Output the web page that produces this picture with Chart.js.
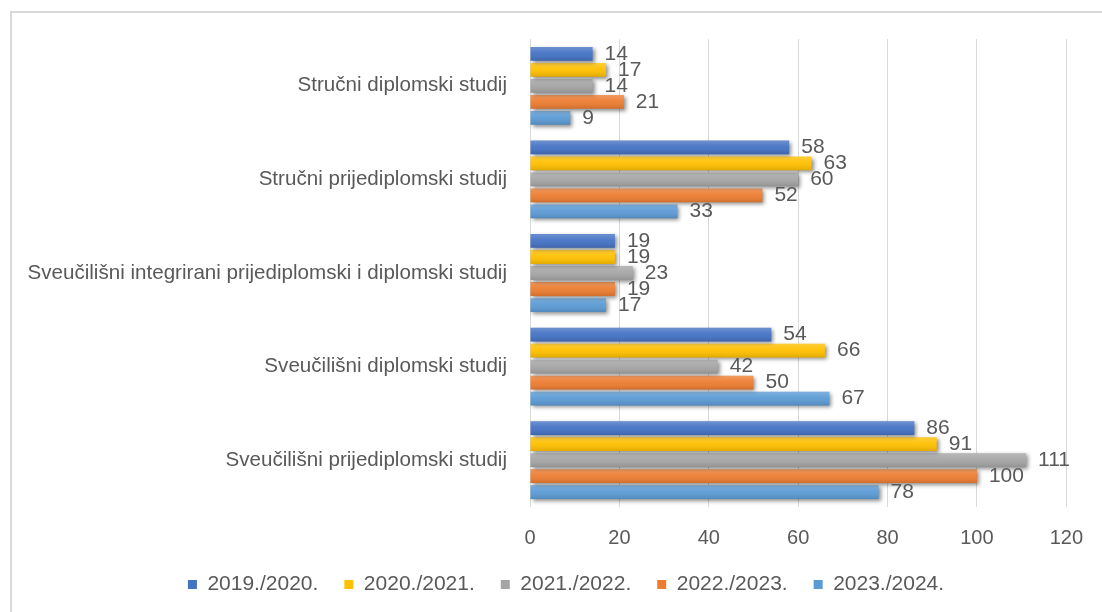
<!DOCTYPE html>
<html>
<head>
<meta charset="utf-8">
<script src="https://cdn.jsdelivr.net/npm/chart.js@4/dist/chart.umd.min.js"></script>
<style>
  html, body { margin: 0; padding: 0; background: #fff; }
  #wrap { width: 1102px; height: 612px; }
</style>
</head>
<body>
<div id="wrap"><canvas id="grafikon" width="1102" height="612"></canvas></div>
<script>
// kategorije (odozgo prema dolje) i vrijednosti po akademskoj godini
const studiji = [
  "Stručni diplomski studij",
  "Stručni prijediplomski studij",
  "Sveučilišni integrirani prijediplomski i diplomski studij",
  "Sveučilišni diplomski studij",
  "Sveučilišni prijediplomski studij"
];
const godine = ["2019./2020.", "2020./2021.", "2021./2022.", "2022./2023.", "2023./2024."];
const g2019 = [14, 58, 19, 54, 86];
const g2020 = [17, 63, 19, 66, 91];
const g2021 = [14, 60, 23, 42, 111];
const g2022 = [21, 52, 19, 50, 100];
const g2023 = [9, 33, 17, 67, 78];
const xTicks = [0, 20, 40, 60, 80, 100, 120];

const boje = ["#4472C4", "#FFC000", "#A5A5A5", "#ED7D31", "#5B9BD5"];
const serije = [g2019, g2020, g2021, g2022, g2023];
const FONT = "'Liberation Sans', Arial, sans-serif";
const SIVA = "#595959";

// okvir grafikona + sjena i sjenčanje stupaca + oznake vrijednosti
const okvirPlugin = {
  id: "okvir",
  beforeDraw(chart) {
    const ctx = chart.ctx;
    ctx.save();
    ctx.fillStyle = "#fff";
    ctx.fillRect(0, 0, chart.width, chart.height);
    ctx.strokeStyle = "#d9d9d9";
    ctx.lineWidth = 2;
    ctx.strokeRect(11, 12, 1200, 700);
    ctx.restore();
  },
  afterLayout(chart) {
    // legenda je u Excelu malo pomaknuta udesno
    chart.legend.left += 24;
    chart.legend.right += 24;
  },
  beforeDatasetsDraw(chart) {
    const ctx = chart.ctx;
    ctx.save();
    ctx.shadowColor = "rgba(0,0,0,0.45)";
    ctx.shadowBlur = 4;
    ctx.shadowOffsetX = 2;
    ctx.shadowOffsetY = 2;
  },
  afterDatasetsDraw(chart) {
    const ctx = chart.ctx;
    ctx.restore();
    ctx.save();
    // blago sjenčanje (svjetliji vrh, tamnije dno)
    chart.data.datasets.forEach((ds, i) => {
      chart.getDatasetMeta(i).data.forEach(bar => {
        const h = bar.height, top = bar.y - h / 2;
        const gr = ctx.createLinearGradient(0, top, 0, top + h);
        gr.addColorStop(0, "rgba(255,255,255,0.22)");
        gr.addColorStop(0.45, "rgba(255,255,255,0.05)");
        gr.addColorStop(1, "rgba(0,0,0,0.12)");
        ctx.fillStyle = gr;
        ctx.fillRect(bar.base, top, bar.x - bar.base, h);
      });
    });
    ctx.font = "21px " + FONT;
    ctx.fillStyle = SIVA;
    ctx.textAlign = "left";
    ctx.textBaseline = "middle";
    chart.data.datasets.forEach((ds, i) => {
      chart.getDatasetMeta(i).data.forEach((bar, j) => {
        ctx.fillText(String(ds.data[j]), bar.x + 12, bar.y);
      });
    });
    ctx.restore();
  }
};

new Chart(document.getElementById("grafikon").getContext("2d"), {
  type: "bar",
  data: {
    labels: studiji,
    datasets: godine.map((g, i) => ({
      label: g,
      data: serije[i],
      backgroundColor: boje[i],
      borderWidth: 0,
      categoryPercentage: 0.855,
      barPercentage: 0.86
    }))
  },
  options: {
    indexAxis: "y",
    responsive: false,
    animation: false,
    layout: { padding: { left: 12, right: 30, top: 39, bottom: 10 } },
    scales: {
      x: {
        min: 0,
        max: 120,
        afterBuildTicks: s => { s.ticks = xTicks.map(v => ({ value: v })); },
        afterFit: s => { s.height = 41; },
        grid: { color: "#d9d9d9", lineWidth: 1, drawTicks: false },
        border: { display: false },
        ticks: { color: SIVA, font: { size: 20, family: FONT }, padding: 19 }
      },
      y: {
        afterFit: s => { s.width = 518; },
        grid: { display: false, drawTicks: false },
        border: { display: false },
        ticks: { color: SIVA, font: { size: 20.6, family: FONT }, padding: 23 }
      }
    },
    plugins: {
      legend: {
        position: "bottom",
        maxHeight: 54,
        labels: {
          color: SIVA,
          font: { size: 21, family: FONT },
          boxWidth: 9,
          boxHeight: 9,
          padding: 26
        }
      },
      tooltip: { enabled: false }
    }
  },
  plugins: [okvirPlugin]
});
</script>
</body>
</html>
